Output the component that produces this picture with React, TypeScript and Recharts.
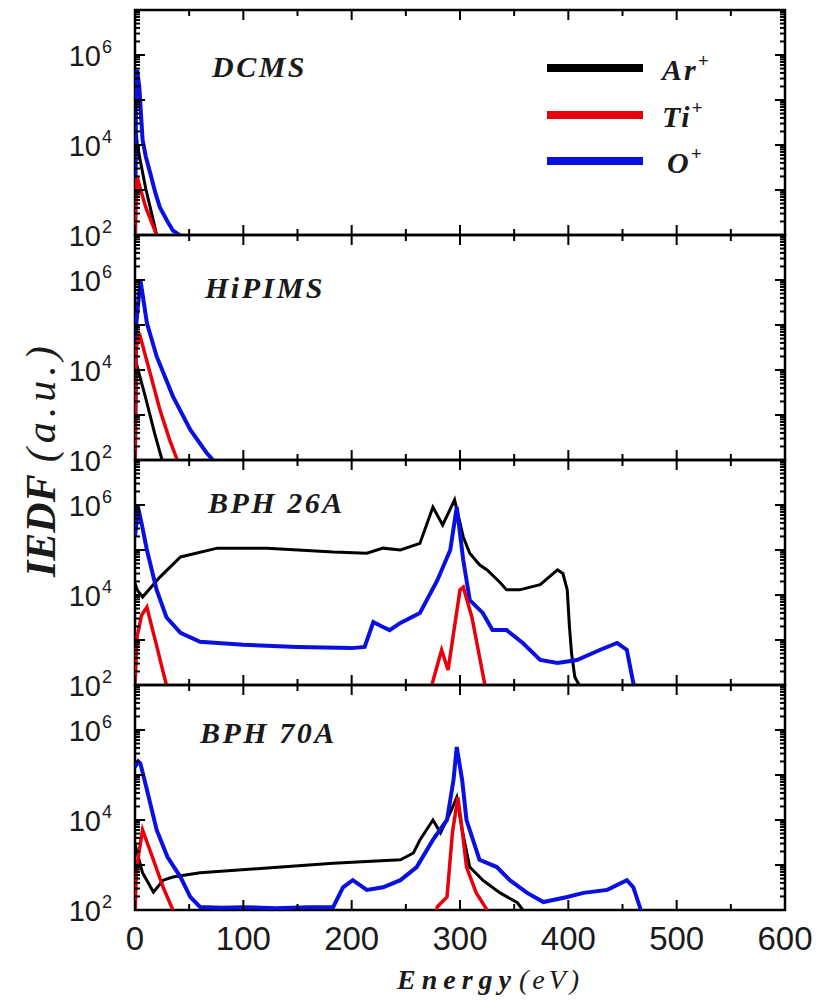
import React from "react";
import { LineChart, Line, XAxis, YAxis, ReferenceArea, Legend } from "recharts";

// ---- DCMS ----
const dcmsArE = [0, 1, 2, 5, 10, 15, 20, 23];
const dcmsArV = [80, 2.2e4, 1.1e4, 4300, 1050, 330, 100, 60];
const dcmsTiE = [0, 1, 2, 5, 10, 15, 20, 23];
const dcmsTiV = [60, 700, 1950, 1050, 410, 200, 100, 60];
const dcmsOE = [0, 1, 2, 4, 7, 10, 14, 19, 23, 30, 35, 41, 45];
const dcmsOV = [80, 2e5, 4.7e5, 1.9e5, 1.3e4, 5500, 2400, 830, 410, 200, 126, 100, 60];

// ---- HiPIMS ----
const hipArE = [0, 1, 2, 10, 18, 25, 28];
const hipArV = [60, 1.5e4, 1.2e4, 2300, 400, 100, 60];
const hipTiE = [0, 1, 4, 14, 23, 32, 39, 43];
const hipTiV = [60, 3e4, 6.6e4, 8500, 1300, 280, 100, 60];
const hipOE = [0, 1, 5, 11, 20, 35, 51, 66, 72, 76];
const hipOV = [80, 9.5e4, 1e6, 1.1e5, 2e4, 2600, 470, 145, 100, 60];

// ---- BPH 26A ----
const b26ArE = [0, 2, 7, 23, 42, 76, 122, 183, 214, 229, 245, 263, 275, 284, 295, 303, 309, 318, 325, 337, 343, 355, 374, 390, 395, 399, 401, 403, 406, 410, 412];
const b26ArV = [1.8e4, 1.3e4, 9000, 2.5e4, 7e4, 1.1e5, 1.1e5, 9e4, 8.5e4, 1.1e5, 1e5, 1.4e5, 9e5, 3.6e5, 1.3e6, 1.95e5, 8.5e4, 4.7e4, 3.6e4, 1.9e4, 1.3e4, 1.3e4, 1.7e4, 3.6e4, 3e4, 1.3e4, 2000, 500, 150, 100, 60];
const b26TiE = [0, 2, 6, 11, 15, 20, 25, 29, 32, 272, 274, 283, 289, 300, 303, 311, 323, 326];
const b26TiV = [100, 1200, 3500, 5400, 2200, 740, 240, 100, 60, 60, 100, 600, 215, 1.3e4, 1.5e4, 3200, 100, 60];
const b26OE = [0, 3, 6, 11, 20, 29, 42, 60, 100, 150, 200, 212, 220, 228, 235, 245, 263, 279, 291, 297, 303, 309, 321, 330, 343, 358, 374, 390, 408, 429, 445, 454, 460, 463];
const b26OV = [2e5, 8.5e5, 4e5, 1e5, 1.3e4, 3200, 1440, 910, 780, 700, 660, 700, 2500, 2000, 1660, 2400, 4000, 2.1e4, 1e5, 9e5, 6e4, 7700, 4000, 1660, 1660, 860, 360, 310, 360, 600, 860, 600, 110, 60];

// ---- BPH 70A ----
const b70ArE = [0, 2, 7, 17, 26, 35, 60, 122, 183, 245, 257, 263, 275, 282, 291, 297, 302, 309, 321, 337, 353, 358, 361];
const b70ArV = [3000, 1850, 670, 250, 460, 540, 670, 860, 1100, 1300, 1850, 3600, 1e4, 5200, 1.45e4, 3.2e4, 6000, 900, 460, 240, 145, 100, 60];
const b70TiE = [0, 1, 3, 7, 17, 26, 35, 38, 277, 279, 288, 293, 298, 302, 306, 315, 325, 328];
const b70TiV = [60, 500, 1500, 6000, 1300, 320, 100, 60, 60, 117, 195, 5200, 3.2e4, 6000, 900, 240, 100, 60];
const b70OE = [0, 3, 5, 11, 20, 30, 42, 51, 60, 80, 100, 130, 160, 183, 192, 201, 214, 229, 245, 260, 275, 288, 294, 297, 302, 306, 318, 334, 346, 362, 377, 399, 414, 436, 454, 460, 466, 469];
const b70OV = [1.5e5, 2e5, 1.8e5, 4.7e4, 6000, 1500, 540, 195, 117, 112, 115, 110, 115, 117, 320, 460, 280, 320, 460, 900, 3600, 1e4, 7.7e4, 4.2e5, 7.7e4, 1e4, 1300, 900, 460, 240, 150, 195, 240, 280, 460, 320, 117, 60];

const X_TICKS = [0, 50, 100, 150, 200, 250, 300, 350, 400, 450, 500, 550, 600];
const Y_TICKS = [
  100, 200, 300, 400, 500, 600, 700, 800, 900,
  1e3, 2e3, 3e3, 4e3, 5e3, 6e3, 7e3, 8e3, 9e3,
  1e4, 2e4, 3e4, 4e4, 5e4, 6e4, 7e4, 8e4, 9e4,
  1e5, 2e5, 3e5, 4e5, 5e5, 6e5, 7e5, 8e5, 9e5,
  1e6, 2e6, 3e6, 4e6, 5e6, 6e6, 7e6, 8e6, 9e6, 1e7,
];
const Y_LABELS = [1e2, 1e4, 1e6];

const AR = "#000000";
const TI = "#e8000b";
const OX = "#0a10e0";
const SANS = "'Liberation Sans', Arial, sans-serif";
const SERIF = "'Liberation Serif', 'DejaVu Serif', serif";

const W = 827;
const PLOT_R = 785;
const PW = 650;
const PH = 225;

const pts = (e: number[], v: number[]) => e.map((x, i) => ({ e: x, v: v[i] }));

function XTick(props: any) {
  const { x, y, payload, showLabel } = props;
  const v = payload.value;
  const len = v % 100 === 0 ? 10 : 6;
  return (
    <g>
      <line x1={x} x2={x} y1={y} y2={y - len} stroke="#000" strokeWidth={2} />
      <line x1={x} x2={x} y1={y - PH} y2={y - PH + len} stroke="#000" strokeWidth={2} />
      {showLabel && v % 100 === 0 && (
        <text x={x} y={y + 40} textAnchor="middle" fontFamily={SANS} fontSize={33} fill="#1a1a1a">
          {v}
        </text>
      )}
    </g>
  );
}

function YTick(props: any) {
  const { x, y, payload } = props;
  const v = payload.value;
  const isDecade = [1e2, 1e3, 1e4, 1e5, 1e6, 1e7].includes(v);
  const len = isDecade ? 10 : 5;
  const showLabel = Y_LABELS.includes(v);
  const exp = Math.round(Math.log10(v));
  return (
    <g>
      <line x1={x} x2={x + len} y1={y} y2={y} stroke="#000" strokeWidth={2} />
      <line x1={x + PW} x2={x + PW - len} y1={y} y2={y} stroke="#000" strokeWidth={2} />
      {showLabel && (
        <g fill="#1a1a1a" fontFamily={SANS}>
          <text x={x - 34} y={y + 11} textAnchor="end" fontSize={29}>10</text>
          <text x={x - 33} y={y - 2} textAnchor="start" fontSize={18}>{exp}</text>
        </g>
      )}
    </g>
  );
}

function LegendBox() {
  const rows = [
    { c: AR, t: "Ar", y: 20, tx: 122 },
    { c: TI, t: "Ti", y: 67, tx: 122 },
    { c: OX, t: "O", y: 113, tx: 127 },
  ];
  return (
    <svg width={240} height={140}>
      {rows.map((r) => (
        <g key={r.t}>
          <line x1={7} x2={103} y1={r.y} y2={r.y} stroke={r.c} strokeWidth={8} />
          <text x={r.tx} y={r.y + 12} fontFamily={SERIF} fontStyle="italic" fontWeight="bold" fontSize={30} letterSpacing={2} fill="#1a1a1a">
            {r.t}
            <tspan dy={-13} fontSize={19}>+</tspan>
          </text>
        </g>
      ))}
    </svg>
  );
}

interface PanelProps {
  top: number;
  ar: { e: number; v: number }[];
  ti: { e: number; v: number }[];
  ox: { e: number; v: number }[];
  last?: boolean;
  legend?: boolean;
}

function Panel({ top, ar, ti, ox, last, legend }: PanelProps) {
  const bottomH = last ? 80 : 20;
  return (
    <div style={{ position: "absolute", left: 0, top: top - 10 }}>
      <LineChart width={W} height={10 + PH + bottomH} margin={{ top: 10, right: W - PLOT_R, left: 0, bottom: 0 }}>
        <XAxis
          type="number"
          dataKey="e"
          domain={[0, 600]}
          ticks={X_TICKS}
          interval={0}
          allowDataOverflow
          axisLine={false}
          tickLine={false}
          tickSize={0}
          tickMargin={0}
          height={bottomH}
          tick={(p: any) => <XTick {...p} showLabel={last} />}
        />
        <YAxis
          type="number"
          scale="log"
          domain={[100, 1e7]}
          ticks={Y_TICKS}
          interval={0}
          allowDataOverflow
          axisLine={false}
          tickLine={false}
          tickSize={0}
          tickMargin={0}
          width={135}
          tick={(p: any) => <YTick {...p} />}
        />
        <ReferenceArea x1={0} x2={600} y1={100} y2={1e7} fill="none" stroke="#000" strokeWidth={2.5} ifOverflow="visible" />
        <Line data={ar} dataKey="v" name="Ar+" stroke={AR} strokeWidth={3} dot={false} type="linear" isAnimationActive={false} />
        <Line data={ox} dataKey="v" name="O+" stroke={OX} strokeWidth={4} dot={false} type="linear" isAnimationActive={false} />
        <Line data={ti} dataKey="v" name="Ti+" stroke={TI} strokeWidth={3.5} dot={false} type="linear" isAnimationActive={false} />
        {legend && (
          <Legend
            layout="vertical"
            align="center"
            verticalAlign="middle"
            wrapperStyle={{ left: 540, top: 48, width: 240, height: 140 }}
            content={() => <LegendBox />}
          />
        )}
      </LineChart>
    </div>
  );
}

const titleStyle = {
  fontFamily: SERIF,
  fontStyle: "italic" as const,
  fontWeight: "bold" as const,
  fontSize: 30,
  letterSpacing: 2.5,
  fill: "#1a1a1a",
};

export default function App() {
  return (
    <div style={{ position: "absolute", left: 0, top: 0, width: W, height: 1001, background: "#fff" }}>
      <Panel top={10} ar={pts(dcmsArE, dcmsArV)} ti={pts(dcmsTiE, dcmsTiV)} ox={pts(dcmsOE, dcmsOV)} legend />
      <Panel top={235} ar={pts(hipArE, hipArV)} ti={pts(hipTiE, hipTiV)} ox={pts(hipOE, hipOV)} />
      <Panel top={460} ar={pts(b26ArE, b26ArV)} ti={pts(b26TiE, b26TiV)} ox={pts(b26OE, b26OV)} />
      <Panel top={685} ar={pts(b70ArE, b70ArV)} ti={pts(b70TiE, b70TiV)} ox={pts(b70OE, b70OV)} last />

      <svg width={W} height={1001} style={{ position: "absolute", left: 0, top: 0, pointerEvents: "none" }}>
        <text x={212} y={77} {...titleStyle}>DCMS</text>
        <text x={205} y={298} {...titleStyle}>HiPIMS</text>
        <text x={208} y={513} {...titleStyle}>BPH 26A</text>
        <text x={200} y={743} {...titleStyle}>BPH 70A</text>

        <text x={397} y={989} fontFamily={SERIF} fontSize={28} fill="#1a1a1a">
          <tspan fontStyle="italic" fontWeight="bold" letterSpacing={6}>Energy</tspan>
          <tspan fontStyle="italic" letterSpacing={4} dx={2}>(eV)</tspan>
        </text>

        <text x={55} y={577} transform="rotate(-90 55 577)" fontFamily={SERIF} fontSize={42} fill="#1a1a1a">
          <tspan fontStyle="italic" fontWeight="bold">IEDF</tspan>
          <tspan fontStyle="italic" letterSpacing={5} dx={12}>(a.u.)</tspan>
        </text>
      </svg>
    </div>
  );
}
